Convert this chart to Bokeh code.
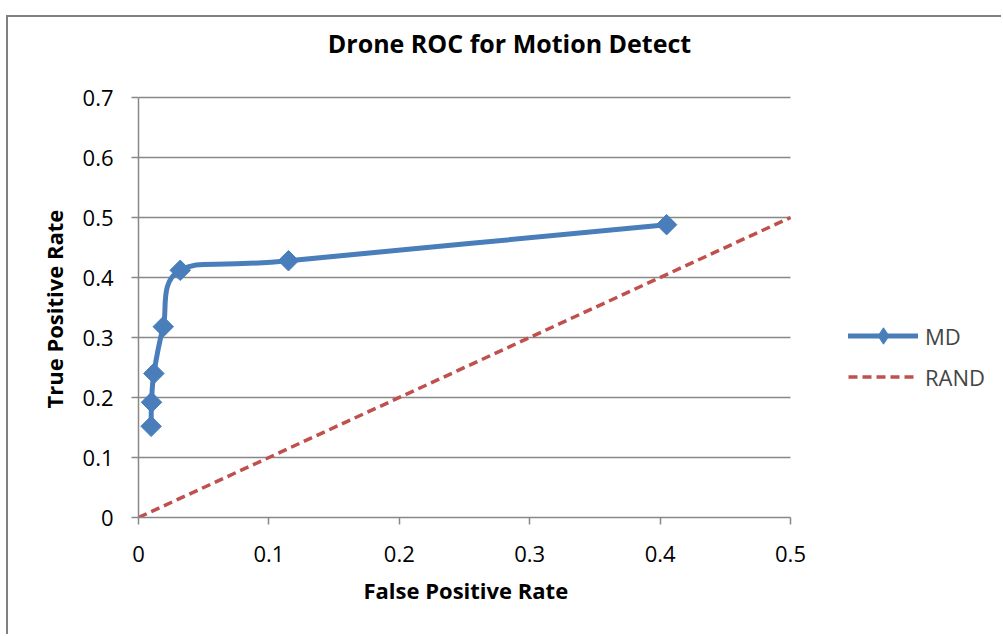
import numpy as np
from bokeh.plotting import figure
from bokeh.models import (Range1d, Legend, LegendItem, Label, Title, FixedTicker, ColumnDataSource)
from bokeh.embed import file_html
from bokeh.resources import INLINE

# ---- data ----
md_fpr = [0.0097, 0.0100, 0.0118, 0.0190, 0.0320, 0.1150, 0.4050]
md_tpr = [0.152, 0.192, 0.240, 0.318, 0.412, 0.428, 0.488]
rand_fpr = [0.0, 0.5]
rand_tpr = [0.0, 0.5]
x_ticks = [0.0, 0.1, 0.2, 0.3, 0.4, 0.5]
x_tick_labels = ["0", "0.1", "0.2", "0.3", "0.4", "0.5"]
y_ticks = [0.0, 0.1, 0.2, 0.3, 0.4, 0.5, 0.6, 0.7]
y_tick_labels = ["0", "0.1", "0.2", "0.3", "0.4", "0.5", "0.6", "0.7"]
title_text = "Drone ROC for Motion Detect"
x_label = "False Positive Rate"
y_label = "True Positive Rate"

BLUE = "#4A7EBB"
RED = "#C0504D"
GRID = "#888888"
FONT = "Open Sans"

# plot area: x 0..0.5 over 652px, y 0..0.7 over 420px; the frame is extended
# to the right/top so that title and legend (drawn inside it) are not clipped
PX_X = 652 / 0.5
PX_Y = 420 / 0.7
FRAME_W = 995 - 130
FRAME_H = 619 - 119

p = figure(width=995, height=619, output_backend="svg", toolbar_location=None,
           x_range=Range1d(0, FRAME_W / PX_X), y_range=Range1d(0, FRAME_H / PX_Y),
           min_border_left=130, min_border_right=0,
           min_border_top=0, min_border_bottom=119,
           styles={"margin-left": "6px", "margin-top": "15px",
                   "border-left": "2px solid #808080",
                   "border-top": "2px solid #808080"})
p.outline_line_color = None
p.background_fill_color = "white"
p.border_fill_color = "white"

# horizontal gridlines (only over the plot area)
p.segment(x0=x_ticks[0], x1=x_ticks[-1], y0=y_ticks[1:], y1=y_ticks[1:],
          line_color=GRID, line_width=1.5)

# smoothed line (Catmull-Rom style Bezier, like Excel's smooth line)
xs = np.array(md_fpr)
ys = np.array(md_tpr)
xp = np.concatenate([[xs[0]], xs, [xs[-1]]])
yp = np.concatenate([[ys[0]], ys, [ys[-1]]])
n = len(xs)
x0 = xs[:-1]; y0 = ys[:-1]; x1 = xs[1:]; y1 = ys[1:]
cx0 = xp[1:n] + (xp[2:n + 1] - xp[0:n - 1]) / 6.0
cy0 = yp[1:n] + (yp[2:n + 1] - yp[0:n - 1]) / 6.0
cx1 = xp[2:n + 1] - (xp[3:n + 2] - xp[1:n]) / 6.0
cy1 = yp[2:n + 1] - (yp[3:n + 2] - yp[1:n]) / 6.0
bsrc = ColumnDataSource(dict(x0=x0, y0=y0, x1=x1, y1=y1, cx0=cx0, cy0=cy0, cx1=cx1, cy1=cy1))

rand_r = p.line(rand_fpr, rand_tpr, line_color=RED, line_width=3.5, line_dash="9 5")
bez = p.bezier(x0="x0", y0="y0", x1="x1", y1="y1", cx0="cx0", cy0="cy0", cx1="cx1", cy1="cy1",
               source=bsrc, line_color=BLUE, line_width=5, line_cap="round")
# diamond used for the legend entry (hidden beneath the first data marker)
legend_marker = p.scatter(md_fpr[:1], md_tpr[:1], marker="diamond", size=13,
                          fill_color=BLUE, line_color=BLUE)
sc = p.scatter(md_fpr, md_tpr, marker="square", angle=np.pi / 4, size=14.5,
               fill_color=BLUE, line_color=BLUE)

# axes
p.xaxis.ticker = FixedTicker(ticks=x_ticks)
p.yaxis.ticker = FixedTicker(ticks=y_ticks)
p.xaxis.bounds = (x_ticks[0], x_ticks[-1])
p.yaxis.bounds = (y_ticks[0], y_ticks[-1])
p.xaxis.major_label_overrides = {t: s for t, s in zip(x_ticks, x_tick_labels)}
p.yaxis.major_label_overrides = {t: s for t, s in zip(y_ticks, y_tick_labels)}
for ax in (p.xaxis[0], p.yaxis[0]):
    ax.axis_line_color = GRID
    ax.axis_line_width = 1.5
    ax.major_tick_line_color = GRID
    ax.major_tick_line_width = 1.5
    ax.major_tick_in = 0
    ax.major_tick_out = 7
    ax.minor_tick_line_color = None
    ax.major_label_text_font = FONT
    ax.major_label_text_font_size = "22px"
    ax.major_label_text_color = "black"
p.xaxis.major_label_standoff = 21
p.yaxis.major_label_standoff = 18

p.xgrid.grid_line_color = None
p.ygrid.grid_line_color = None

# axis titles (placed in the side panels, positioned on the plot area)
xt = Title(text=x_label, align="left", offset=225, vertical_align="top", standoff=20,
           text_font=FONT, text_font_size="22px", text_font_style="bold", text_color="black")
p.add_layout(xt, "below")
yt = Title(text=y_label, align="left", offset=109, vertical_align="bottom", standoff=21,
           text_font=FONT, text_font_size="22px", text_font_style="bold", text_color="black")
p.add_layout(yt, "left")

# chart title
p.add_layout(Label(x=(509 - 138) / PX_X, y=(517 - 42.5) / PX_Y, text=title_text,
                   text_align="center", text_baseline="middle", text_font=FONT,
                   text_font_size="25px", text_font_style="bold", text_color="black"))

legend = Legend(items=[LegendItem(label="MD", renderers=[bez, legend_marker]),
                       LegendItem(label="RAND", renderers=[rand_r])],
                location=(710, 120), padding=0, margin=0, spacing=0,
                glyph_width=70, glyph_height=41, label_height=41,
                label_standoff=7, border_line_color=None,
                background_fill_alpha=0,
                label_text_font=FONT, label_text_font_size="22px")
p.add_layout(legend)

open("out.html", "w").write(file_html(p, INLINE))
